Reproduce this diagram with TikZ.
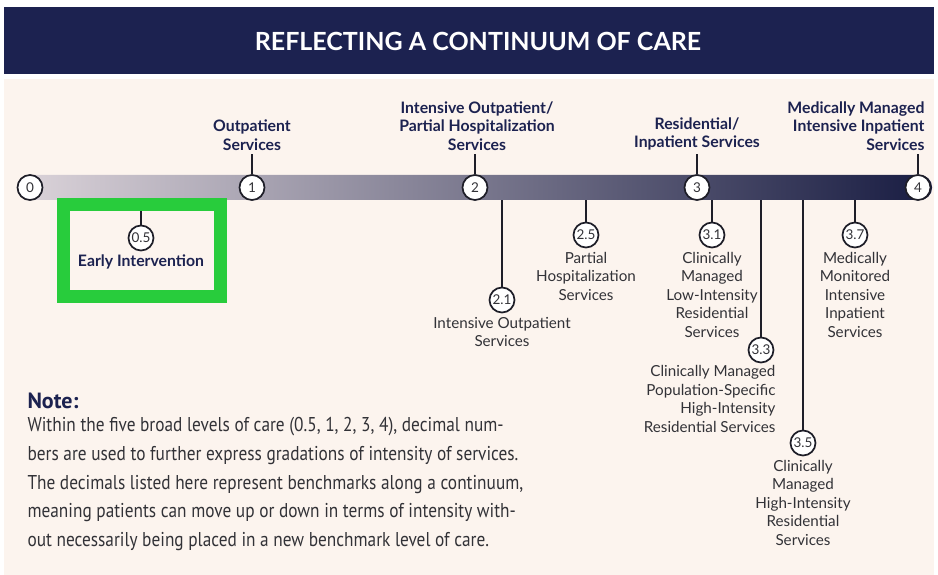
\documentclass[tikz,border=0pt]{standalone}
\usepackage{fontspec}
\setmainfont{Lato}
\newfontfamily\notefont[FakeStretch=0.865]{PT Sans}
\newfontfamily\notebold{PT Sans}
\usetikzlibrary{positioning}

\begin{document}
\begin{tikzpicture}[x=1pt,y=-1pt,
                num/.style={circle, draw=ring, line width=1.7pt, fill=white, minimum size=25pt, inner sep=0pt, text=ink, font=\fontsize{13.5}{13.5}\selectfont},
                toplbl/.style={align=center, text=navy, font=\fontsize{15.8}{18.5}\selectfont\bfseries},
                sublbl/.style={align=center, text=ink, font=\fontsize{15.2}{18.5}\selectfont},
                tick/.style={draw=ring, line width=1.6pt},
                bar/.style={rounded corners=12pt, minimum width=914pt, minimum height=25pt, inner sep=0pt, left color=barlight, right color=bardark}]
                \definecolor{navy}{RGB}{28,34,80}
                \definecolor{cream}{RGB}{252,244,238}
                \definecolor{ink}{RGB}{50,50,55}
                \definecolor{ring}{RGB}{30,30,40}
                \definecolor{barlight}{RGB}{220,212,218}
                \definecolor{bardark}{RGB}{24,28,66}
                \definecolor{boxgreen}{RGB}{40,204,60}

                \fill [white] (0,0) rectangle (938,575);
                \fill [navy]  (4,7) rectangle (934,74);
                \fill [cream] (4,79) rectangle (934,575);
                \node [text=white, font=\fontsize{25}{25}\selectfont\bfseries] (title) at (478,41) {REFLECTING A CONTINUUM OF CARE};

                \node [bar] (bar) at (475,187.5) {};

                \foreach \n/\x in {0/30,1/252,2/475,3/697,4/918}{
                    \node [num] (c\n) at (\x,187.5) {\n};
                }

                \node [toplbl, anchor=south] (l1) at (252,154) {Outpatient\\Services};
                \node [toplbl, anchor=south] (l2) at (477,154) {Intensive Outpatient/\\Partial Hospitalization\\Services};
                \node [toplbl, anchor=south] (l3) at (697,154) {Residential/\\Inpatient Services};
                \node [toplbl, anchor=south east, align=right] (l4) at (928,154) {Medically Managed\\Intensive Inpatient\\Services};
                \foreach \n in {1,2,3,4}{
                    \draw [tick] (c\n.north) -- (c\n.north |- l\n.south);
                }

                \foreach \n/\t/\x/\y in {05/0.5/141/238, 21/2.1/502/300, 25/2.5/586/235, 31/3.1/712/235, 33/3.3/761/350, 35/3.5/803/443, 37/3.7/855/235}{
                    \draw [tick] (\x,\y) -- (\x,200);
                    \node [num] (c\n) at (\x,\y) {\t};
                }

                \draw [boxgreen, line width=13pt] (63.5,204.5) rectangle (220.5,296.5);

                \node [toplbl, below=0pt of c05] (l05) {Early Intervention};
                \node [sublbl, below=0pt of c21] (l21) {Intensive Outpatient\\Services};
                \node [sublbl, below=0pt of c25] (l25) {Partial\\Hospitalization\\Services};
                \node [sublbl, below=0pt of c31] (l31) {Clinically\\Managed\\Low-Intensity\\Residential\\Services};
                \node [sublbl, align=right, anchor=north east] (l33) at (779,362) {Clinically Managed\\Population-Specific\\High-Intensity\\Residential Services};
                \node [sublbl, below=0pt of c35] (l35) {Clinically\\Managed\\High-Intensity\\Residential\\Services};
                \node [sublbl, below=0pt of c37] (l37) {Medically\\Monitored\\Intensive\\Inpatient\\Services};

                \node [anchor=west, text=navy, font=\notebold\fontsize{22}{22}\selectfont\bfseries] (note) at (24,401) {Note:};
                \node [anchor=north west, align=left, text=ink, font=\notefont\fontsize{20}{28.7}\selectfont] (notetext) at (24,414) {Within the five broad levels of care (0.5, 1, 2, 3, 4), decimal num-\\bers are used to further express gradations of intensity of services.\\The decimals listed here represent benchmarks along a continuum,\\meaning patients can move up or down in terms of intensity with-\\out necessarily being placed in a new benchmark level of care.};
\end{tikzpicture}
\end{document}
